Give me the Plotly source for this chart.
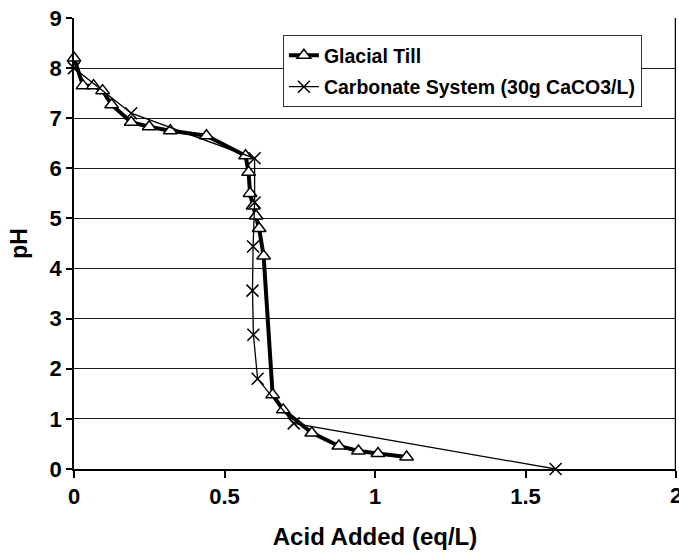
import plotly.graph_objects as go

till_x = [0, 0.03, 0.065, 0.095, 0.125, 0.19, 0.25, 0.32, 0.44, 0.57, 0.58, 0.585,
          0.595, 0.605, 0.615, 0.63, 0.66, 0.695, 0.79, 0.88, 0.945, 1.01, 1.105]
till_ph = [8.2, 7.65, 7.65, 7.55, 7.27, 6.92, 6.83, 6.75, 6.65, 6.25, 5.92, 5.5,
           5.25, 5.05, 4.8, 4.25, 1.48, 1.18, 0.72, 0.46, 0.36, 0.31, 0.24]

carb_x = [0, 0.19, 0.6, 0.6, 0.595, 0.593, 0.596, 0.61, 0.73, 1.6]
carb_ph = [8.0, 7.1, 6.2, 5.32, 4.44, 3.56, 2.68, 1.8, 0.91, 0.0]

x_ticks = [0, 0.5, 1, 1.5]
x_tick_text = ["0", "0.5", "1", "1.5"]
x_last_tick = 2
y_ticks = list(range(0, 10))

FONT = "Liberation Sans, Arial, sans-serif"

fig = go.Figure()
fig.add_trace(go.Scatter(
    x=till_x, y=till_ph, mode="lines+markers", name="Glacial Till",
    legendgroup="a",
    line=dict(color="black", width=4),
    marker=dict(symbol="triangle-up", size=12, color="white",
                line=dict(color="black", width=1.5)),
    cliponaxis=False,
))
fig.add_trace(go.Scatter(
    x=carb_x, y=carb_ph, mode="lines+markers", name="Carbonate System (30g CaCO3/L)",
    legendgroup="b",
    line=dict(color="black", width=1.3),
    marker=dict(symbol="x-thin", size=12, color="black",
                line=dict(color="black", width=1.5)),
    cliponaxis=False,
))

fig.update_layout(
    width=679, height=554,
    margin=dict(l=74, r=3, t=18, b=85),
    paper_bgcolor="white", plot_bgcolor="white",
    font=dict(family=FONT, color="black", size=19),
    showlegend=True,
    legend=dict(
        x=0.347, y=0.962, xanchor="left", yanchor="top",
        bgcolor="white", bordercolor="#333", borderwidth=1,
        font=dict(family=FONT, size=19.5, color="black", weight="bold"),
        traceorder="grouped", tracegroupgap=3,
    ),
    xaxis=dict(
        range=[0, 2], tickvals=x_ticks + [x_last_tick], ticktext=x_tick_text + [""],
        showgrid=False, zeroline=False,
        showline=True, linecolor="black", linewidth=2,
        ticks="outside", ticklen=7, tickwidth=1.5, tickcolor="black",
        tickfont=dict(family=FONT, size=22, weight="bold"),
        title=dict(text="<b>Acid Added (eq/L)</b>", font=dict(family=FONT, size=24), standoff=20),
    ),
    yaxis=dict(
        range=[0, 9], tickvals=y_ticks,
        showgrid=True, gridcolor="#1a1a1a", gridwidth=1,
        zeroline=False,
        showline=True, linecolor="black", linewidth=1.5, mirror=False,
        ticks="outside", ticklen=6, tickwidth=1.5, tickcolor="black",
        tickfont=dict(family=FONT, size=22, weight="bold"),
        title=dict(text="<b>pH</b>", font=dict(family=FONT, size=23), standoff=16),
    ),
)

# right border of the plot area
fig.add_shape(type="line", xref="x", yref="paper", x0=2, x1=2, y0=0, y1=1,
              line=dict(color="black", width=2.5))

# last x tick label, partly cut by the page edge as in the original
fig.add_annotation(x=x_last_tick, y=0, xref="x", yref="paper", yanchor="top",
                   yshift=-12, text="<b>%g</b>" % x_last_tick, showarrow=False,
                   font=dict(family=FONT, size=22, color="black"))

fig.write_html("out.html")
